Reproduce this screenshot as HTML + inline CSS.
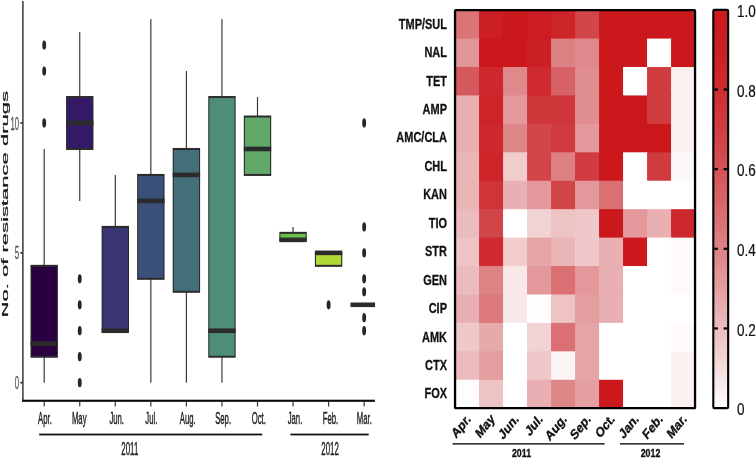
<!DOCTYPE html>
<html><head><meta charset="utf-8"><title>chart</title>
<style>
html,body{margin:0;padding:0;background:#fff;}
svg{display:block;will-change:transform;font-family:"Liberation Sans",sans-serif;}
</style></head><body>
<svg width="756" height="458" viewBox="0 0 756 458">
<rect width="756" height="458" fill="#fff"/>
<g id="boxplot">
<line x1="44.20" y1="148.97" x2="44.20" y2="265.83" stroke="#333" stroke-width="1.15"/>
<line x1="44.20" y1="356.73" x2="44.20" y2="382.70" stroke="#333" stroke-width="1.15"/>
<rect x="30.50" y="264.83" width="27.40" height="92.90" fill="#2b2b2b"/>
<rect x="31.60" y="266.83" width="25.20" height="88.90" fill="#2b0040"/>
<rect x="30.50" y="341.44" width="27.40" height="4.6" fill="#2b2b2b"/>
<ellipse cx="44.20" cy="123.00" rx="1.95" ry="4.65" fill="#262626"/>
<ellipse cx="44.20" cy="71.06" rx="1.95" ry="4.65" fill="#262626"/>
<ellipse cx="44.20" cy="45.09" rx="1.95" ry="4.65" fill="#262626"/>
<line x1="79.75" y1="32.11" x2="79.75" y2="97.03" stroke="#333" stroke-width="1.15"/>
<line x1="79.75" y1="148.97" x2="79.75" y2="200.91" stroke="#333" stroke-width="1.15"/>
<rect x="66.05" y="96.03" width="27.40" height="53.94" fill="#2b2b2b"/>
<rect x="67.15" y="98.03" width="25.20" height="49.94" fill="#341a66"/>
<rect x="66.05" y="120.70" width="27.40" height="4.6" fill="#2b2b2b"/>
<ellipse cx="79.75" cy="382.70" rx="1.95" ry="4.65" fill="#262626"/>
<ellipse cx="79.75" cy="356.73" rx="1.95" ry="4.65" fill="#262626"/>
<ellipse cx="79.75" cy="330.76" rx="1.95" ry="4.65" fill="#262626"/>
<ellipse cx="79.75" cy="304.79" rx="1.95" ry="4.65" fill="#262626"/>
<ellipse cx="79.75" cy="278.82" rx="1.95" ry="4.65" fill="#262626"/>
<line x1="115.30" y1="174.94" x2="115.30" y2="226.88" stroke="#333" stroke-width="1.15"/>
<rect x="101.60" y="225.88" width="27.40" height="105.88" fill="#2b2b2b"/>
<rect x="102.70" y="227.88" width="25.20" height="101.88" fill="#383572"/>
<rect x="101.60" y="328.46" width="27.40" height="4.6" fill="#2b2b2b"/>
<line x1="150.85" y1="19.12" x2="150.85" y2="174.94" stroke="#333" stroke-width="1.15"/>
<line x1="150.85" y1="278.82" x2="150.85" y2="382.70" stroke="#333" stroke-width="1.15"/>
<rect x="137.15" y="173.94" width="27.40" height="105.88" fill="#2b2b2b"/>
<rect x="138.25" y="175.94" width="25.20" height="101.88" fill="#3b5079"/>
<rect x="137.15" y="198.61" width="27.40" height="4.6" fill="#2b2b2b"/>
<line x1="186.40" y1="71.06" x2="186.40" y2="148.97" stroke="#333" stroke-width="1.15"/>
<line x1="186.40" y1="291.81" x2="186.40" y2="382.70" stroke="#333" stroke-width="1.15"/>
<rect x="172.70" y="147.97" width="27.40" height="144.84" fill="#2b2b2b"/>
<rect x="173.80" y="149.97" width="25.20" height="140.84" fill="#436f7b"/>
<rect x="172.70" y="172.64" width="27.40" height="4.6" fill="#2b2b2b"/>
<line x1="221.95" y1="19.12" x2="221.95" y2="97.03" stroke="#333" stroke-width="1.15"/>
<line x1="221.95" y1="356.73" x2="221.95" y2="382.70" stroke="#333" stroke-width="1.15"/>
<rect x="208.25" y="96.03" width="27.40" height="261.70" fill="#2b2b2b"/>
<rect x="209.35" y="98.03" width="25.20" height="257.70" fill="#4d8e76"/>
<rect x="208.25" y="328.46" width="27.40" height="4.6" fill="#2b2b2b"/>
<line x1="257.50" y1="97.03" x2="257.50" y2="116.51" stroke="#333" stroke-width="1.15"/>
<rect x="243.80" y="115.51" width="27.40" height="60.43" fill="#2b2b2b"/>
<rect x="244.90" y="117.51" width="25.20" height="56.43" fill="#62a969"/>
<rect x="243.80" y="146.67" width="27.40" height="4.6" fill="#2b2b2b"/>
<line x1="293.05" y1="226.88" x2="293.05" y2="232.85" stroke="#333" stroke-width="1.15"/>
<rect x="279.35" y="231.85" width="27.40" height="9.01" fill="#2b2b2b"/>
<rect x="280.45" y="233.85" width="25.20" height="5.01" fill="#6cc04a"/>
<rect x="279.35" y="237.56" width="27.40" height="4.6" fill="#2b2b2b"/>
<rect x="314.90" y="251.85" width="27.40" height="14.98" fill="#2b2b2b"/>
<rect x="316.00" y="253.85" width="25.20" height="10.98" fill="#b0d836"/>
<rect x="314.90" y="250.55" width="27.40" height="4.6" fill="#2b2b2b"/>
<ellipse cx="328.60" cy="304.79" rx="1.95" ry="4.65" fill="#262626"/>
<rect x="350.5" y="302.49" width="24.6" height="4.6" fill="#2b2b2b"/>
<ellipse cx="364.15" cy="330.76" rx="1.95" ry="4.65" fill="#262626"/>
<ellipse cx="364.15" cy="317.77" rx="1.95" ry="4.65" fill="#262626"/>
<ellipse cx="364.15" cy="291.81" rx="1.95" ry="4.65" fill="#262626"/>
<ellipse cx="364.15" cy="278.82" rx="1.95" ry="4.65" fill="#262626"/>
<ellipse cx="364.15" cy="252.85" rx="1.95" ry="4.65" fill="#262626"/>
<ellipse cx="364.15" cy="226.88" rx="1.95" ry="4.65" fill="#262626"/>
<ellipse cx="364.15" cy="123.00" rx="1.95" ry="4.65" fill="#262626"/>
<rect x="22.2" y="1" width="1.4" height="400.5" fill="#2a2a2a"/>
<rect x="22.2" y="399.7" width="352.7" height="2.15" fill="#0c0c0c"/>
<rect x="20.4" y="381.85" width="2.0" height="1.7" fill="#222"/>
<rect x="20.4" y="252.00" width="2.0" height="1.7" fill="#222"/>
<rect x="20.4" y="122.15" width="2.0" height="1.7" fill="#222"/>
<rect x="43.60" y="401.6" width="1.2" height="4.9" fill="#383838"/>
<rect x="79.15" y="401.6" width="1.2" height="4.9" fill="#383838"/>
<rect x="114.70" y="401.6" width="1.2" height="4.9" fill="#383838"/>
<rect x="150.25" y="401.6" width="1.2" height="4.9" fill="#383838"/>
<rect x="185.80" y="401.6" width="1.2" height="4.9" fill="#383838"/>
<rect x="221.35" y="401.6" width="1.2" height="4.9" fill="#383838"/>
<rect x="256.90" y="401.6" width="1.2" height="4.9" fill="#383838"/>
<rect x="292.45" y="401.6" width="1.2" height="4.9" fill="#383838"/>
<rect x="328.00" y="401.6" width="1.2" height="4.9" fill="#383838"/>
<rect x="363.55" y="401.6" width="1.2" height="4.9" fill="#383838"/>
<text transform="translate(19.00,389.20) scale(0.43,1)" font-size="18" text-anchor="end" fill="#555" stroke="#555" stroke-width="0.25" vector-effect="non-scaling-stroke" font-weight="normal">0</text>
<text transform="translate(19.00,259.35) scale(0.43,1)" font-size="18" text-anchor="end" fill="#555" stroke="#555" stroke-width="0.25" vector-effect="non-scaling-stroke" font-weight="normal">5</text>
<text transform="translate(19.00,129.50) scale(0.43,1)" font-size="18" text-anchor="end" fill="#555" stroke="#555" stroke-width="0.25" vector-effect="non-scaling-stroke" font-weight="normal">10</text>
<text transform="translate(45.00,423.70) scale(0.45,1)" font-size="17.2" text-anchor="middle" fill="#222" stroke="#222" stroke-width="0.35" vector-effect="non-scaling-stroke" font-weight="normal">Apr.</text>
<text transform="translate(79.20,423.70) scale(0.45,1)" font-size="17.2" text-anchor="middle" fill="#222" stroke="#222" stroke-width="0.35" vector-effect="non-scaling-stroke" font-weight="normal">May</text>
<text transform="translate(116.70,423.70) scale(0.45,1)" font-size="17.2" text-anchor="middle" fill="#222" stroke="#222" stroke-width="0.35" vector-effect="non-scaling-stroke" font-weight="normal">Jun.</text>
<text transform="translate(151.30,423.70) scale(0.45,1)" font-size="17.2" text-anchor="middle" fill="#222" stroke="#222" stroke-width="0.35" vector-effect="non-scaling-stroke" font-weight="normal">Jul.</text>
<text transform="translate(187.70,423.70) scale(0.45,1)" font-size="17.2" text-anchor="middle" fill="#222" stroke="#222" stroke-width="0.35" vector-effect="non-scaling-stroke" font-weight="normal">Aug.</text>
<text transform="translate(223.10,423.70) scale(0.45,1)" font-size="17.2" text-anchor="middle" fill="#222" stroke="#222" stroke-width="0.35" vector-effect="non-scaling-stroke" font-weight="normal">Sep.</text>
<text transform="translate(258.80,423.70) scale(0.45,1)" font-size="17.2" text-anchor="middle" fill="#222" stroke="#222" stroke-width="0.35" vector-effect="non-scaling-stroke" font-weight="normal">Oct.</text>
<text transform="translate(295.00,423.70) scale(0.45,1)" font-size="17.2" text-anchor="middle" fill="#222" stroke="#222" stroke-width="0.35" vector-effect="non-scaling-stroke" font-weight="normal">Jan.</text>
<text transform="translate(330.50,423.70) scale(0.45,1)" font-size="17.2" text-anchor="middle" fill="#222" stroke="#222" stroke-width="0.35" vector-effect="non-scaling-stroke" font-weight="normal">Feb.</text>
<text transform="translate(364.30,423.70) scale(0.45,1)" font-size="17.2" text-anchor="middle" fill="#222" stroke="#222" stroke-width="0.35" vector-effect="non-scaling-stroke" font-weight="normal">Mar.</text>
<rect x="39.2" y="433.6" width="223" height="1.8" fill="#111"/>
<rect x="290.4" y="433.6" width="78.3" height="1.8" fill="#111"/>
<text transform="translate(129.80,455.00) scale(0.45,1)" font-size="17.5" text-anchor="middle" fill="#222" stroke="#222" stroke-width="0.35" vector-effect="non-scaling-stroke" font-weight="normal">2011</text>
<text transform="translate(330.10,455.00) scale(0.45,1)" font-size="17.5" text-anchor="middle" fill="#222" stroke="#222" stroke-width="0.35" vector-effect="non-scaling-stroke" font-weight="normal">2012</text>
<text transform="translate(7.7,204.2) rotate(-90) scale(2.37,1)" font-size="9.3" text-anchor="middle" fill="#1a1a1a" stroke="#1a1a1a" stroke-width="0.45" vector-effect="non-scaling-stroke">No. of resistance drugs</text>
</g>
<g id="heatmap">
<rect x="455.05" y="10.15" width="25.00" height="29.43" fill="#db7477"/>
<rect x="479.05" y="10.15" width="25.00" height="29.43" fill="#cc1f24"/>
<rect x="503.05" y="10.15" width="25.00" height="29.43" fill="#cb181d"/>
<rect x="527.05" y="10.15" width="25.00" height="29.43" fill="#cc1d22"/>
<rect x="551.05" y="10.15" width="25.00" height="29.43" fill="#cd2428"/>
<rect x="575.05" y="10.15" width="25.00" height="29.43" fill="#d2464a"/>
<rect x="599.05" y="10.15" width="25.00" height="29.43" fill="#cb181d"/>
<rect x="623.05" y="10.15" width="25.00" height="29.43" fill="#cb181d"/>
<rect x="647.05" y="10.15" width="25.00" height="29.43" fill="#cb181d"/>
<rect x="671.05" y="10.15" width="24.00" height="29.43" fill="#cb181d"/>
<rect x="455.05" y="38.58" width="25.00" height="29.43" fill="#e29597"/>
<rect x="479.05" y="38.58" width="25.00" height="29.43" fill="#cb181d"/>
<rect x="503.05" y="38.58" width="25.00" height="29.43" fill="#cb181d"/>
<rect x="527.05" y="38.58" width="25.00" height="29.43" fill="#cc1f24"/>
<rect x="551.05" y="38.58" width="25.00" height="29.43" fill="#dd8083"/>
<rect x="575.05" y="38.58" width="25.00" height="29.43" fill="#df898c"/>
<rect x="599.05" y="38.58" width="25.00" height="29.43" fill="#cb181d"/>
<rect x="623.05" y="38.58" width="25.00" height="29.43" fill="#cb181d"/>
<rect x="647.05" y="38.58" width="25.00" height="29.43" fill="#ffffff"/>
<rect x="671.05" y="38.58" width="24.00" height="29.43" fill="#cb181d"/>
<rect x="455.05" y="67.01" width="25.00" height="29.43" fill="#d5595c"/>
<rect x="479.05" y="67.01" width="25.00" height="29.43" fill="#cd282d"/>
<rect x="503.05" y="67.01" width="25.00" height="29.43" fill="#df898c"/>
<rect x="527.05" y="67.01" width="25.00" height="29.43" fill="#ce2a2f"/>
<rect x="551.05" y="67.01" width="25.00" height="29.43" fill="#d76265"/>
<rect x="575.05" y="67.01" width="25.00" height="29.43" fill="#e08e90"/>
<rect x="599.05" y="67.01" width="25.00" height="29.43" fill="#cb181d"/>
<rect x="623.05" y="67.01" width="25.00" height="29.43" fill="#ffffff"/>
<rect x="647.05" y="67.01" width="25.00" height="29.43" fill="#d03b3f"/>
<rect x="671.05" y="67.01" width="24.00" height="29.43" fill="#faf0f0"/>
<rect x="455.05" y="95.45" width="25.00" height="29.43" fill="#e8b0b2"/>
<rect x="479.05" y="95.45" width="25.00" height="29.43" fill="#cd2428"/>
<rect x="503.05" y="95.45" width="25.00" height="29.43" fill="#e3999c"/>
<rect x="527.05" y="95.45" width="25.00" height="29.43" fill="#cf363a"/>
<rect x="551.05" y="95.45" width="25.00" height="29.43" fill="#cf363a"/>
<rect x="575.05" y="95.45" width="25.00" height="29.43" fill="#e08e90"/>
<rect x="599.05" y="95.45" width="25.00" height="29.43" fill="#cb181d"/>
<rect x="623.05" y="95.45" width="25.00" height="29.43" fill="#cb181d"/>
<rect x="647.05" y="95.45" width="25.00" height="29.43" fill="#d03b3f"/>
<rect x="671.05" y="95.45" width="24.00" height="29.43" fill="#faf0f0"/>
<rect x="455.05" y="123.88" width="25.00" height="29.43" fill="#e8b0b2"/>
<rect x="479.05" y="123.88" width="25.00" height="29.43" fill="#cd282d"/>
<rect x="503.05" y="123.88" width="25.00" height="29.43" fill="#de8789"/>
<rect x="527.05" y="123.88" width="25.00" height="29.43" fill="#d2464a"/>
<rect x="551.05" y="123.88" width="25.00" height="29.43" fill="#d03b3f"/>
<rect x="575.05" y="123.88" width="25.00" height="29.43" fill="#e3999c"/>
<rect x="599.05" y="123.88" width="25.00" height="29.43" fill="#cb181d"/>
<rect x="623.05" y="123.88" width="25.00" height="29.43" fill="#cb181d"/>
<rect x="647.05" y="123.88" width="25.00" height="29.43" fill="#cb181d"/>
<rect x="671.05" y="123.88" width="24.00" height="29.43" fill="#faf0f0"/>
<rect x="455.05" y="152.31" width="25.00" height="29.43" fill="#eab5b7"/>
<rect x="479.05" y="152.31" width="25.00" height="29.43" fill="#cd2428"/>
<rect x="503.05" y="152.31" width="25.00" height="29.43" fill="#f0cccd"/>
<rect x="527.05" y="152.31" width="25.00" height="29.43" fill="#d2464a"/>
<rect x="551.05" y="152.31" width="25.00" height="29.43" fill="#dd8083"/>
<rect x="575.05" y="152.31" width="25.00" height="29.43" fill="#d03b3f"/>
<rect x="599.05" y="152.31" width="25.00" height="29.43" fill="#cb181d"/>
<rect x="623.05" y="152.31" width="25.00" height="29.43" fill="#ffffff"/>
<rect x="647.05" y="152.31" width="25.00" height="29.43" fill="#d03b3f"/>
<rect x="671.05" y="152.31" width="24.00" height="29.43" fill="#fdf8f8"/>
<rect x="455.05" y="180.74" width="25.00" height="29.43" fill="#eab5b7"/>
<rect x="479.05" y="180.74" width="25.00" height="29.43" fill="#cf3438"/>
<rect x="503.05" y="180.74" width="25.00" height="29.43" fill="#e8b0b2"/>
<rect x="527.05" y="180.74" width="25.00" height="29.43" fill="#e3999c"/>
<rect x="551.05" y="180.74" width="25.00" height="29.43" fill="#d2464a"/>
<rect x="575.05" y="180.74" width="25.00" height="29.43" fill="#e3999c"/>
<rect x="599.05" y="180.74" width="25.00" height="29.43" fill="#da7073"/>
<rect x="623.05" y="180.74" width="25.00" height="29.43" fill="#ffffff"/>
<rect x="647.05" y="180.74" width="25.00" height="29.43" fill="#ffffff"/>
<rect x="671.05" y="180.74" width="24.00" height="29.43" fill="#ffffff"/>
<rect x="455.05" y="209.18" width="25.00" height="29.43" fill="#ebbcbd"/>
<rect x="479.05" y="209.18" width="25.00" height="29.43" fill="#d2464a"/>
<rect x="503.05" y="209.18" width="25.00" height="29.43" fill="#ffffff"/>
<rect x="527.05" y="209.18" width="25.00" height="29.43" fill="#f2d3d4"/>
<rect x="551.05" y="209.18" width="25.00" height="29.43" fill="#edc3c4"/>
<rect x="575.05" y="209.18" width="25.00" height="29.43" fill="#efc8c9"/>
<rect x="599.05" y="209.18" width="25.00" height="29.43" fill="#cb181d"/>
<rect x="623.05" y="209.18" width="25.00" height="29.43" fill="#e3999c"/>
<rect x="647.05" y="209.18" width="25.00" height="29.43" fill="#e8b0b2"/>
<rect x="671.05" y="209.18" width="24.00" height="29.43" fill="#cd282d"/>
<rect x="455.05" y="237.61" width="25.00" height="29.43" fill="#edc3c4"/>
<rect x="479.05" y="237.61" width="25.00" height="29.43" fill="#ce2a2f"/>
<rect x="503.05" y="237.61" width="25.00" height="29.43" fill="#f0cccd"/>
<rect x="527.05" y="237.61" width="25.00" height="29.43" fill="#e5a5a7"/>
<rect x="551.05" y="237.61" width="25.00" height="29.43" fill="#eab5b7"/>
<rect x="575.05" y="237.61" width="25.00" height="29.43" fill="#efc8c9"/>
<rect x="599.05" y="237.61" width="25.00" height="29.43" fill="#e8b0b2"/>
<rect x="623.05" y="237.61" width="25.00" height="29.43" fill="#cb181d"/>
<rect x="647.05" y="237.61" width="25.00" height="29.43" fill="#ffffff"/>
<rect x="671.05" y="237.61" width="24.00" height="29.43" fill="#fefafa"/>
<rect x="455.05" y="266.04" width="25.00" height="29.43" fill="#ebbcbd"/>
<rect x="479.05" y="266.04" width="25.00" height="29.43" fill="#dd8285"/>
<rect x="503.05" y="266.04" width="25.00" height="29.43" fill="#f8e8e8"/>
<rect x="527.05" y="266.04" width="25.00" height="29.43" fill="#e3999c"/>
<rect x="551.05" y="266.04" width="25.00" height="29.43" fill="#da7073"/>
<rect x="575.05" y="266.04" width="25.00" height="29.43" fill="#e3999c"/>
<rect x="599.05" y="266.04" width="25.00" height="29.43" fill="#e8b0b2"/>
<rect x="623.05" y="266.04" width="25.00" height="29.43" fill="#ffffff"/>
<rect x="647.05" y="266.04" width="25.00" height="29.43" fill="#ffffff"/>
<rect x="671.05" y="266.04" width="24.00" height="29.43" fill="#fefafa"/>
<rect x="455.05" y="294.47" width="25.00" height="29.43" fill="#e8b0b2"/>
<rect x="479.05" y="294.47" width="25.00" height="29.43" fill="#db797c"/>
<rect x="503.05" y="294.47" width="25.00" height="29.43" fill="#f8e8e8"/>
<rect x="527.05" y="294.47" width="25.00" height="29.43" fill="#fefdfd"/>
<rect x="551.05" y="294.47" width="25.00" height="29.43" fill="#edc3c4"/>
<rect x="575.05" y="294.47" width="25.00" height="29.43" fill="#e49ea0"/>
<rect x="599.05" y="294.47" width="25.00" height="29.43" fill="#e8b0b2"/>
<rect x="623.05" y="294.47" width="25.00" height="29.43" fill="#ffffff"/>
<rect x="647.05" y="294.47" width="25.00" height="29.43" fill="#ffffff"/>
<rect x="671.05" y="294.47" width="24.00" height="29.43" fill="#ffffff"/>
<rect x="455.05" y="322.90" width="25.00" height="29.43" fill="#efc8c9"/>
<rect x="479.05" y="322.90" width="25.00" height="29.43" fill="#e7aaab"/>
<rect x="503.05" y="322.90" width="25.00" height="29.43" fill="#ffffff"/>
<rect x="527.05" y="322.90" width="25.00" height="29.43" fill="#f2d3d4"/>
<rect x="551.05" y="322.90" width="25.00" height="29.43" fill="#da7073"/>
<rect x="575.05" y="322.90" width="25.00" height="29.43" fill="#e5a5a7"/>
<rect x="599.05" y="322.90" width="25.00" height="29.43" fill="#ffffff"/>
<rect x="623.05" y="322.90" width="25.00" height="29.43" fill="#ffffff"/>
<rect x="647.05" y="322.90" width="25.00" height="29.43" fill="#ffffff"/>
<rect x="671.05" y="322.90" width="24.00" height="29.43" fill="#fefafa"/>
<rect x="455.05" y="351.34" width="25.00" height="29.43" fill="#ebbcbd"/>
<rect x="479.05" y="351.34" width="25.00" height="29.43" fill="#e49ea0"/>
<rect x="503.05" y="351.34" width="25.00" height="29.43" fill="#ffffff"/>
<rect x="527.05" y="351.34" width="25.00" height="29.43" fill="#efc8c9"/>
<rect x="551.05" y="351.34" width="25.00" height="29.43" fill="#fbf3f4"/>
<rect x="575.05" y="351.34" width="25.00" height="29.43" fill="#e5a5a7"/>
<rect x="599.05" y="351.34" width="25.00" height="29.43" fill="#ffffff"/>
<rect x="623.05" y="351.34" width="25.00" height="29.43" fill="#ffffff"/>
<rect x="647.05" y="351.34" width="25.00" height="29.43" fill="#ffffff"/>
<rect x="671.05" y="351.34" width="24.00" height="29.43" fill="#fbf1f1"/>
<rect x="455.05" y="379.77" width="25.00" height="28.43" fill="#fefdfd"/>
<rect x="479.05" y="379.77" width="25.00" height="28.43" fill="#edc3c4"/>
<rect x="503.05" y="379.77" width="25.00" height="28.43" fill="#ffffff"/>
<rect x="527.05" y="379.77" width="25.00" height="28.43" fill="#e8b0b2"/>
<rect x="551.05" y="379.77" width="25.00" height="28.43" fill="#de8789"/>
<rect x="575.05" y="379.77" width="25.00" height="28.43" fill="#e4a0a2"/>
<rect x="599.05" y="379.77" width="25.00" height="28.43" fill="#cb181d"/>
<rect x="623.05" y="379.77" width="25.00" height="28.43" fill="#ffffff"/>
<rect x="647.05" y="379.77" width="25.00" height="28.43" fill="#ffffff"/>
<rect x="671.05" y="379.77" width="24.00" height="28.43" fill="#fbf1f1"/>
<rect x="455.05" y="10.15" width="240.00" height="398.05" fill="none" stroke="#000" stroke-width="2.3" rx="0.8"/>
<text transform="translate(447.0,28.77) scale(0.785,1)" font-size="14.0" font-weight="bold" text-anchor="end" fill="#111" stroke="#111" stroke-width="0.25" vector-effect="non-scaling-stroke">TMP/SUL</text>
<text transform="translate(447.0,57.20) scale(0.785,1)" font-size="14.0" font-weight="bold" text-anchor="end" fill="#111" stroke="#111" stroke-width="0.25" vector-effect="non-scaling-stroke">NAL</text>
<text transform="translate(447.0,85.63) scale(0.785,1)" font-size="14.0" font-weight="bold" text-anchor="end" fill="#111" stroke="#111" stroke-width="0.25" vector-effect="non-scaling-stroke">TET</text>
<text transform="translate(447.0,114.06) scale(0.785,1)" font-size="14.0" font-weight="bold" text-anchor="end" fill="#111" stroke="#111" stroke-width="0.25" vector-effect="non-scaling-stroke">AMP</text>
<text transform="translate(447.0,142.49) scale(0.785,1)" font-size="14.0" font-weight="bold" text-anchor="end" fill="#111" stroke="#111" stroke-width="0.25" vector-effect="non-scaling-stroke">AMC/CLA</text>
<text transform="translate(447.0,170.93) scale(0.785,1)" font-size="14.0" font-weight="bold" text-anchor="end" fill="#111" stroke="#111" stroke-width="0.25" vector-effect="non-scaling-stroke">CHL</text>
<text transform="translate(447.0,199.36) scale(0.785,1)" font-size="14.0" font-weight="bold" text-anchor="end" fill="#111" stroke="#111" stroke-width="0.25" vector-effect="non-scaling-stroke">KAN</text>
<text transform="translate(447.0,227.79) scale(0.785,1)" font-size="14.0" font-weight="bold" text-anchor="end" fill="#111" stroke="#111" stroke-width="0.25" vector-effect="non-scaling-stroke">TIO</text>
<text transform="translate(447.0,256.22) scale(0.785,1)" font-size="14.0" font-weight="bold" text-anchor="end" fill="#111" stroke="#111" stroke-width="0.25" vector-effect="non-scaling-stroke">STR</text>
<text transform="translate(447.0,284.66) scale(0.785,1)" font-size="14.0" font-weight="bold" text-anchor="end" fill="#111" stroke="#111" stroke-width="0.25" vector-effect="non-scaling-stroke">GEN</text>
<text transform="translate(447.0,313.09) scale(0.785,1)" font-size="14.0" font-weight="bold" text-anchor="end" fill="#111" stroke="#111" stroke-width="0.25" vector-effect="non-scaling-stroke">CIP</text>
<text transform="translate(447.0,341.52) scale(0.785,1)" font-size="14.0" font-weight="bold" text-anchor="end" fill="#111" stroke="#111" stroke-width="0.25" vector-effect="non-scaling-stroke">AMK</text>
<text transform="translate(447.0,369.95) scale(0.785,1)" font-size="14.0" font-weight="bold" text-anchor="end" fill="#111" stroke="#111" stroke-width="0.25" vector-effect="non-scaling-stroke">CTX</text>
<text transform="translate(447.0,398.38) scale(0.785,1)" font-size="14.0" font-weight="bold" text-anchor="end" fill="#111" stroke="#111" stroke-width="0.25" vector-effect="non-scaling-stroke">FOX</text>
<text transform="translate(471.35,419.80) scale(0.8,1) rotate(-45)" font-size="14.0" font-weight="bold" text-anchor="end" fill="#111" stroke="#111" stroke-width="0.35" vector-effect="non-scaling-stroke">Apr.</text>
<text transform="translate(495.35,419.80) scale(0.8,1) rotate(-45)" font-size="14.0" font-weight="bold" text-anchor="end" fill="#111" stroke="#111" stroke-width="0.35" vector-effect="non-scaling-stroke">May</text>
<text transform="translate(519.35,419.80) scale(0.8,1) rotate(-45)" font-size="14.0" font-weight="bold" text-anchor="end" fill="#111" stroke="#111" stroke-width="0.35" vector-effect="non-scaling-stroke">Jun.</text>
<text transform="translate(543.35,419.80) scale(0.8,1) rotate(-45)" font-size="14.0" font-weight="bold" text-anchor="end" fill="#111" stroke="#111" stroke-width="0.35" vector-effect="non-scaling-stroke">Jul.</text>
<text transform="translate(567.35,419.80) scale(0.8,1) rotate(-45)" font-size="14.0" font-weight="bold" text-anchor="end" fill="#111" stroke="#111" stroke-width="0.35" vector-effect="non-scaling-stroke">Aug.</text>
<text transform="translate(591.35,419.80) scale(0.8,1) rotate(-45)" font-size="14.0" font-weight="bold" text-anchor="end" fill="#111" stroke="#111" stroke-width="0.35" vector-effect="non-scaling-stroke">Sep.</text>
<text transform="translate(615.35,419.80) scale(0.8,1) rotate(-45)" font-size="14.0" font-weight="bold" text-anchor="end" fill="#111" stroke="#111" stroke-width="0.35" vector-effect="non-scaling-stroke">Oct.</text>
<text transform="translate(639.35,419.80) scale(0.8,1) rotate(-45)" font-size="14.0" font-weight="bold" text-anchor="end" fill="#111" stroke="#111" stroke-width="0.35" vector-effect="non-scaling-stroke">Jan.</text>
<text transform="translate(663.35,419.80) scale(0.8,1) rotate(-45)" font-size="14.0" font-weight="bold" text-anchor="end" fill="#111" stroke="#111" stroke-width="0.35" vector-effect="non-scaling-stroke">Feb.</text>
<text transform="translate(687.35,419.80) scale(0.8,1) rotate(-45)" font-size="14.0" font-weight="bold" text-anchor="end" fill="#111" stroke="#111" stroke-width="0.35" vector-effect="non-scaling-stroke">Mar.</text>
<rect x="452.6" y="443.1" width="152" height="1.5" fill="#222"/>
<rect x="620" y="443.1" width="64" height="1.5" fill="#222"/>
<text transform="translate(521.5,456.8) scale(0.8,1)" font-size="11" font-weight="bold" text-anchor="middle" fill="#111" stroke="#111" stroke-width="0.3" vector-effect="non-scaling-stroke">2011</text>
<text transform="translate(650.5,456.8) scale(0.8,1)" font-size="11" font-weight="bold" text-anchor="middle" fill="#111" stroke="#111" stroke-width="0.3" vector-effect="non-scaling-stroke">2012</text>
<defs><linearGradient id="cb" x1="0" y1="0" x2="0" y2="1"><stop offset="0.00" stop-color="#cb181d"/><stop offset="0.05" stop-color="#cb1b20"/><stop offset="0.10" stop-color="#cc1f24"/><stop offset="0.15" stop-color="#cd252a"/><stop offset="0.20" stop-color="#ce2d31"/><stop offset="0.25" stop-color="#cf3539"/><stop offset="0.30" stop-color="#d13e42"/><stop offset="0.35" stop-color="#d2484c"/><stop offset="0.40" stop-color="#d45256"/><stop offset="0.45" stop-color="#d65e61"/><stop offset="0.50" stop-color="#d86a6d"/><stop offset="0.55" stop-color="#db7679"/><stop offset="0.60" stop-color="#de8386"/><stop offset="0.65" stop-color="#e19193"/><stop offset="0.70" stop-color="#e49fa1"/><stop offset="0.75" stop-color="#e8aeb0"/><stop offset="0.80" stop-color="#ecbdbf"/><stop offset="0.85" stop-color="#f0cdce"/><stop offset="0.90" stop-color="#f5ddde"/><stop offset="0.95" stop-color="#faeeee"/><stop offset="1.00" stop-color="#ffffff"/></linearGradient></defs>
<rect x="713.3" y="9.85" width="14.85" height="398.25" rx="1.2" fill="url(#cb)" stroke="#000" stroke-width="2.1"/>
<text transform="translate(737.0,16.95) scale(0.815,1)" font-size="16.6" fill="#111" stroke="#111" stroke-width="0.2" vector-effect="non-scaling-stroke">1.0</text>
<rect x="714.3" y="88.40" width="3.6" height="2.2" fill="#000"/>
<rect x="723.6" y="88.40" width="3.6" height="2.2" fill="#000"/>
<text transform="translate(737.0,96.60) scale(0.815,1)" font-size="16.6" fill="#111" stroke="#111" stroke-width="0.2" vector-effect="non-scaling-stroke">0.8</text>
<rect x="714.3" y="168.05" width="3.6" height="2.2" fill="#000"/>
<rect x="723.6" y="168.05" width="3.6" height="2.2" fill="#000"/>
<text transform="translate(737.0,176.25) scale(0.815,1)" font-size="16.6" fill="#111" stroke="#111" stroke-width="0.2" vector-effect="non-scaling-stroke">0.6</text>
<rect x="714.3" y="247.70" width="3.6" height="2.2" fill="#000"/>
<rect x="723.6" y="247.70" width="3.6" height="2.2" fill="#000"/>
<text transform="translate(737.0,255.90) scale(0.815,1)" font-size="16.6" fill="#111" stroke="#111" stroke-width="0.2" vector-effect="non-scaling-stroke">0.4</text>
<rect x="714.3" y="327.35" width="3.6" height="2.2" fill="#000"/>
<rect x="723.6" y="327.35" width="3.6" height="2.2" fill="#000"/>
<text transform="translate(737.0,335.55) scale(0.815,1)" font-size="16.6" fill="#111" stroke="#111" stroke-width="0.2" vector-effect="non-scaling-stroke">0.2</text>
<text transform="translate(737.0,415.20) scale(0.815,1)" font-size="16.6" fill="#111" stroke="#111" stroke-width="0.2" vector-effect="non-scaling-stroke">0</text>
</g>
</svg>
</body></html>
